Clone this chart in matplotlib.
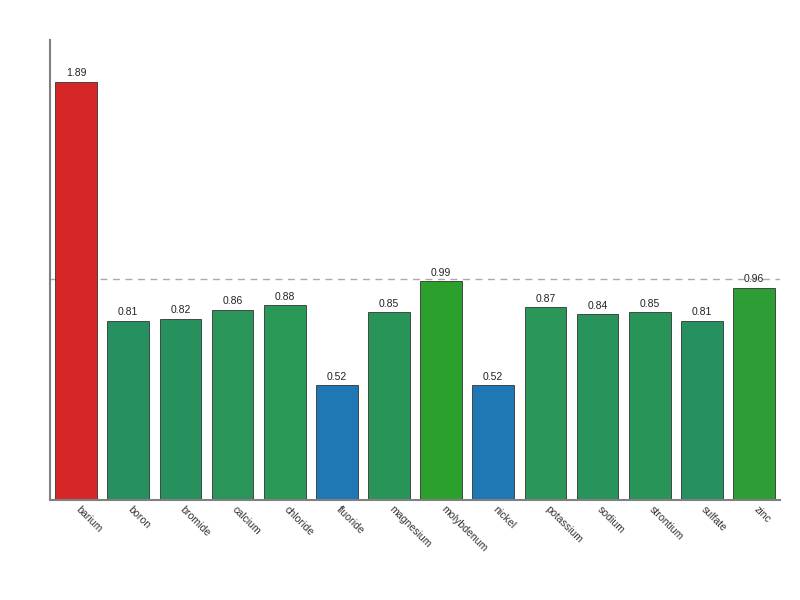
import matplotlib
matplotlib.use("Agg")
import matplotlib.pyplot as plt
import matplotlib.transforms as mtransforms

plt.rcParams["font.family"] = ["Liberation Sans", "DejaVu Sans"]

categories = ["barium", "boron", "bromide", "calcium", "chloride", "fluoride",
              "magnesium", "molybdenum", "nickel", "potassium", "sodium",
              "strontium", "sulfate", "zinc"]
values = [1.89, 0.81, 0.82, 0.86, 0.88, 0.52, 0.85, 0.99, 0.52, 0.87, 0.84,
          0.85, 0.81, 0.96]
colors = ["#d62728", "#279060", "#27915e", "#299559", "#2a9856", "#1f77b4",
          "#299458", "#2ca02c", "#1f77b4", "#2a9657", "#28935b", "#299458",
          "#279060", "#2c9e35"]
reference = 1.0

fig = plt.figure(figsize=(8, 6), dpi=100)
ax = fig.add_axes([0.0625, 0.1667, 0.9125, 0.7667])
x = list(range(len(categories)))
bars = ax.bar(x, values, width=0.8, color=colors, edgecolor="#333333", linewidth=0.6)
ax.axhline(reference, color="#aaaaaa", linestyle=(0, (5, 4)), linewidth=1, zorder=0)
for xi, v in zip(x, values):
    ax.text(xi, v + 0.015, f"{v:.2f}", ha="center", va="bottom", fontsize=7.5, color="#222222")
ax.set_xlim(-0.5, len(categories) - 0.5)
ax.set_ylim(0, max(values) * 1.1)
ax.set_xticks(x)
ax.set_xticklabels(categories, rotation=-45, ha="left", va="top", rotation_mode="anchor",
                   fontsize=7.6, color="#333333")
ax.tick_params(axis="x", length=0, pad=3)
offset = mtransforms.ScaledTranslation(5 / 100, 0, fig.dpi_scale_trans)
for lbl in ax.get_xticklabels():
    lbl.set_transform(lbl.get_transform() + offset)
ax.set_yticks([])
for s in ["top", "right"]:
    ax.spines[s].set_visible(False)
for s in ["left", "bottom"]:
    ax.spines[s].set_color("#808080")
    ax.spines[s].set_linewidth(1.5)
fig.savefig("out.png", dpi=100)
